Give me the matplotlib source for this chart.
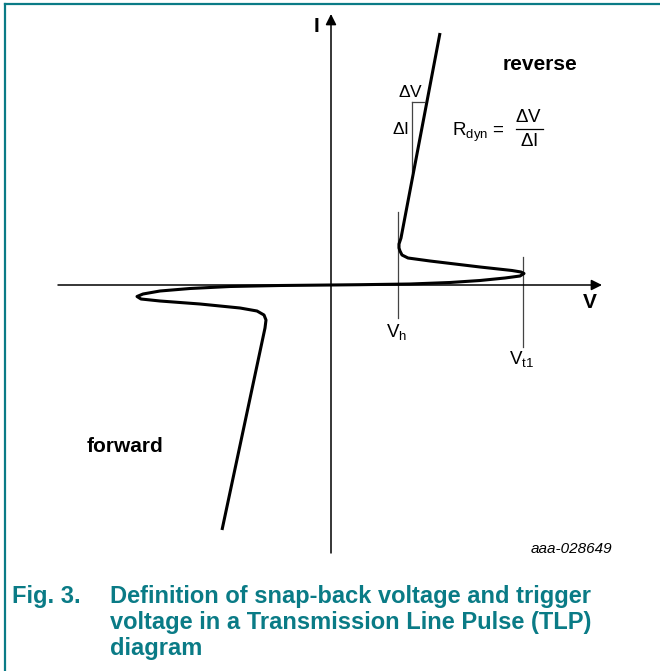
import matplotlib
matplotlib.use("Agg")
import matplotlib.pyplot as plt
from matplotlib.lines import Line2D

plt.rcParams['font.family'] = ['Liberation Sans', 'DejaVu Sans']
plt.rcParams['mathtext.fontset'] = 'custom'
plt.rcParams['mathtext.rm'] = 'Liberation Sans'

# TLP curve (V, I in drawing units, origin at the axes cross)
curve_v = [109, 70, 68, 68, 69, 71, 77, 99, 149, 181, 190, 193, 189, 174, 149, 119, 79, 29, 0,
           -51, -101, -141, -171, -188, -194, -190, -171, -131, -91, -74, -67, -65, -66, -109]
curve_i = [252, 47, 41, 37, 34, 30, 27, 24, 18, 14.5, 13, 11.5, 9, 7, 4.5, 2.5, 1, 0.3, 0,
           -0.5, -1.5, -3.5, -6, -9, -11.5, -14, -16, -19, -23, -26, -30, -35, -43, -245]

v_hold = 67
v_trigger = 192
dv_span = [81, 93]
di_span = [113, 183]

teal = '#0a7b86'

fig = plt.figure(figsize=(6.6, 6.71), dpi=100)
ax = fig.add_axes([0, 0, 1, 1])
ax.set_xlim(-331, 329)
ax.set_ylim(-386, 285)
ax.axis('off')

# axes with arrows
ax.annotate('', xy=(271, 0), xytext=(-273, 0),
            arrowprops=dict(arrowstyle='-|>', mutation_scale=16, lw=1.1, color='black',
                            shrinkA=0, shrinkB=0))
ax.annotate('', xy=(0, 271), xytext=(0, -268),
            arrowprops=dict(arrowstyle='-|>', mutation_scale=16, lw=1.1, color='black',
                            shrinkA=0, shrinkB=0))

# helper lines
ax.plot([v_hold, v_hold], [73, -33], color='#444444', lw=0.9)
ax.plot([v_trigger, v_trigger], [28, -62], color='#444444', lw=0.9)
ax.plot(dv_span, [di_span[1], di_span[1]], color='#444444', lw=0.9)
ax.plot([dv_span[0], dv_span[0]], di_span, color='#444444', lw=0.9)

ax.plot(curve_v, curve_i, color='black', lw=2.2, solid_joinstyle='round', solid_capstyle='butt')

# labels
ax.text(-14, 259, 'I', fontsize=15, fontweight='bold', ha='center', va='center')
ax.text(259, -18, 'V', fontsize=15, fontweight='bold', ha='center', va='center')
ax.text(209, 221, 'reverse', fontsize=15, fontweight='bold', ha='center', va='center')
ax.text(-206, -162, 'forward', fontsize=15, fontweight='bold', ha='center', va='center')
ax.text(80, 193, r'$\Delta$V', fontsize=12.5, ha='center', va='center')
ax.text(69, 156, r'$\Delta$I', fontsize=12.5, ha='center', va='center')
ax.text(121, 153, r'R$_{\mathrm{dyn}}$ =', fontsize=13.5, ha='left', va='center')
ax.text(197, 168, r'$\Delta$V', fontsize=13.5, ha='center', va='center')
ax.plot([185, 212], [156, 156], color='black', lw=0.9)
ax.text(198, 143, r'$\Delta$I', fontsize=13.5, ha='center', va='center')
ax.text(66, -48, r'V$_{\mathrm{h}}$', fontsize=13.5, ha='center', va='center')
ax.text(191, -75, r'V$_{\mathrm{t1}}$', fontsize=13.5, ha='center', va='center')
ax.text(281, -264, 'aaa-028649', fontsize=11, style='italic', ha='right', va='center')

# caption
fig.text(12 / 660, 1 - 597 / 671, 'Fig. 3.', fontsize=17, fontweight='bold', color=teal,
         ha='left', va='center')
caption = ['Definition of snap-back voltage and trigger',
           'voltage in a Transmission Line Pulse (TLP)',
           'diagram']
for k, line in enumerate(caption):
    fig.text(110 / 660, 1 - (597 + 25.5 * k) / 671, line, fontsize=17, fontweight='bold',
             color=teal, ha='left', va='center')

# frame
fig.add_artist(Line2D([5 / 660, 5 / 660], [0, 1 - 4 / 671], transform=fig.transFigure,
                      color=teal, lw=1.6))
fig.add_artist(Line2D([5 / 660, 1], [1 - 4 / 671, 1 - 4 / 671], transform=fig.transFigure,
                      color=teal, lw=1.6))

fig.savefig('out.png', dpi=100)
